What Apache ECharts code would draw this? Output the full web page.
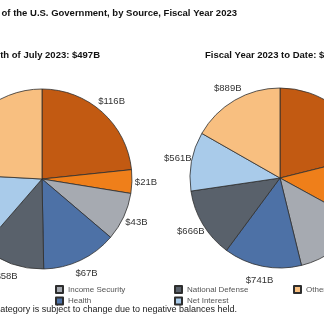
<!DOCTYPE html>
<html>
<head>
<meta charset="utf-8">
<script src="https://cdn.jsdelivr.net/npm/echarts@6/dist/echarts.min.js"></script>
<style>html,body{margin:0;padding:0;background:#fff}#c{width:324px;height:324px}</style>
</head>
<body>
<div id="c"></div>
<script>
const categories = ['Social Security', 'Medicare', 'Income Security', 'Health', 'National Defense', 'Net Interest', 'Other'];
const julyValues = [116, 21, 43, 67, 58, 72, 120];
const fyValues = [1120, 630, 700, 741, 666, 561, 889];
const colors = ['#C25A12', '#EF7F1A', '#A6AAB1', '#4D71A6', '#59616B', '#A9CBEA', '#F8BF80'];
const legendColumns = [
  ['Social Security', 'Medicare'],
  ['Income Security', 'Health'],
  ['National Defense', 'Net Interest'],
  ['Other']
];
const titleText = 'Outlays of the U.S. Government, by Source, Fiscal Year 2023';
const footnote = '*The Other category is subject to change due to negative balances held.';

const FONT = '"Liberation Sans", Arial, sans-serif';
const sum = a => a.reduce((s, v) => s + v, 0);
const fmt = v => '$' + v.toLocaleString('en-US') + 'B';

const mk = vals => categories.map((n, i) => ({ name: n, value: vals[i] }));

const centers = [[42, 179], [280, 178]];
const datasets = [julyValues, fyValues];

const series = [];
datasets.forEach((vals, k) => {
  series.push({
    type: 'pie', center: centers[k], radius: 90, startAngle: 90, clockwise: true,
    silent: true, avoidLabelOverlap: false,
    label: { show: false }, labelLine: { show: false },
    itemStyle: { borderColor: '#2e2e2e', borderWidth: 0.8 },
    emphasis: { disabled: true },
    data: mk(vals).map((d, i) => Object.assign(d, { itemStyle: { color: colors[i] } }))
  });
});
datasets.forEach((vals, k) => {
  series.push({
    type: 'pie', center: centers[k], radius: [88, 114], startAngle: 90, clockwise: true,
    silent: true, avoidLabelOverlap: false,
    itemStyle: { color: 'rgba(0,0,0,0)', borderWidth: 0 },
    labelLine: { show: false },
    emphasis: { disabled: true },
    label: {
      show: true, position: 'inside', rotate: 0, color: '#333',
      fontFamily: FONT, fontSize: 9.5,
      formatter: p => fmt(p.value)
    },
    data: mk(vals)
  });
});

const colLefts = [-90, 55, 174, 293];
const legends = legendColumns.map((names, c) => ({
  orient: 'vertical', left: colLefts[c], top: 284.5, padding: 0,
  itemWidth: 7, itemHeight: 7, itemGap: 1.5, icon: 'rect',
  selectedMode: false,
  textStyle: { fontFamily: FONT, fontSize: 8, color: '#555', lineHeight: 10 },
  data: names
}));

const chart = echarts.init(document.getElementById('c'), null, { renderer: 'canvas' });
chart.setOption({
  animation: false,
  backgroundColor: '#fff',
  title: [
    { text: titleText, right: 87, top: 8, padding: 0,
      textStyle: { fontFamily: FONT, fontSize: 9.5, fontWeight: 'bold', color: '#111' } },
    { text: 'Month of July 2023: ' + fmt(sum(julyValues)), right: 224, top: 50, padding: 0,
      textStyle: { fontFamily: FONT, fontSize: 9.5, fontWeight: 'bold', color: '#111' } },
    { text: 'Fiscal Year 2023 to Date: ' + fmt(sum(fyValues)), left: 205, top: 50, padding: 0,
      textStyle: { fontFamily: FONT, fontSize: 9.5, fontWeight: 'bold', color: '#111' } },
    { text: footnote, right: 87, top: 305, padding: 0,
      textStyle: { fontFamily: FONT, fontSize: 9, fontWeight: 'normal', color: '#222' } }
  ],
  legend: legends,
  series: series
});
</script>
</body>
</html>
